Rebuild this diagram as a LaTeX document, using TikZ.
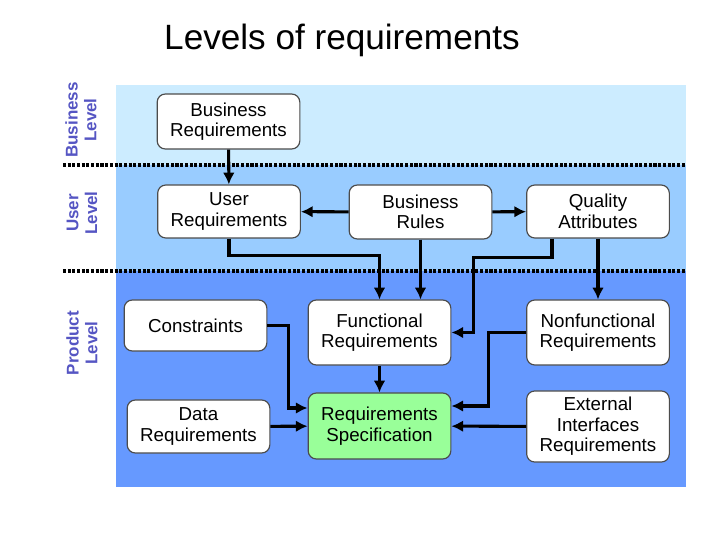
\documentclass[tikz,border=0pt]{standalone}
\usepackage{fontspec}
\setmainfont{Liberation Sans}
\usetikzlibrary{calc,arrows.meta}
\definecolor{bizband}{RGB}{204,236,255}
\definecolor{userband}{RGB}{153,204,255}
\definecolor{prodband}{RGB}{102,153,255}
\definecolor{levelcol}{RGB}{85,85,195}
\definecolor{specfill}{RGB}{153,255,153}
\begin{document}
\begin{tikzpicture}[x=0.03cm,y=-0.03cm]
  \tikzstyle{req} = [rectangle, rounded corners=7pt, draw=black!70, fill=white, line width=1pt, text width=3.9cm, inner sep=0.19cm, align=center, font=\fontsize{16}{17.5}\selectfont]
  \tikzstyle{level} = [rotate=90, align=center, text=levelcol, font=\fontsize{14.5}{16}\selectfont\bfseries]
  \tikzstyle{flow} = [line width=2.6pt,-{Latex[length=10pt,width=10pt]}]
  \tikzstyle{border} = [line width=3pt, dash pattern=on 2.6pt off 1.4pt]

  \useasboundingbox (0,0) rectangle (720,540);

  % Title
  \node (title) at (342,40) {\fontsize{30}{34}\selectfont Levels of requirements};

  % Level bands
  \fill [bizband] (116,85) rectangle (686,165);
  \fill [userband] (116,165) rectangle (686,271);
  \fill [prodband] (116,271) rectangle (686,487);
  \draw [border] (63,165) -- (686,165);
  \draw [border] (63,271) -- (686,271);

  \node [level] (lvlbiz) at (81,120) {Business\\Level};
  \node [level] (lvluser) at (82,213) {User\\Level};
  \node [level] (lvlprod) at (82,343) {Product\\Level};

  % Business level
  \node [req, minimum height=1.65cm] (busreq) at (228.5,121.5) {Business\\Requirements};

  % User level
  \node [req, minimum height=1.59cm] (userreq) at (229,211.5) {User\\Requirements};
  \node [req, minimum height=1.62cm] (busrules) at (420.5,212) {Business\\Rules};
  \node [req, minimum height=1.59cm] (quality) at (598,211.5) {Quality\\Attributes};

  % Product level
  \node [req, minimum height=1.53cm] (constr) at (195.5,325.5) {Constraints};
  \node [req, minimum height=1.95cm] (funcreq) at (379.5,332.5) {Functional\\Requirements};
  \node [req, minimum height=1.95cm] (nonfunc) at (598,332.5) {Nonfunctional\\Requirements};
  \node [req, minimum height=1.59cm] (datareq) at (198.5,426.5) {Data\\Requirements};
  \node [req, minimum height=1.98cm, fill=specfill] (reqspec) at (379.5,426) {Requirements\\Specification};
  \node [req, minimum height=1.89cm] (extif) at (598,426.5) {External\\Interfaces\\Requirements};

  % Connectors
  \draw [flow] (busreq) -- (userreq);
  \draw [flow] (busrules) -- (userreq);
  \draw [flow] (busrules) -- (quality);
  \draw [flow] (userreq.south) -- ++(0,17) -| (funcreq.north);
  \draw [flow] (busrules.south) -- (busrules.south |- funcreq.north);
  \draw [flow] ($(quality.south)+(-46,0)$) -- ++(0,19) -| ($(funcreq.east)+(22,0)$) -- (funcreq.east);
  \draw [flow] (quality) -- (nonfunc);
  \draw [flow] (nonfunc.west) -- ++(-38,0) |- ($(reqspec.east)+(0,-20)$);
  \draw [flow] (extif) -- (reqspec);
  \draw [flow] (constr.east) -- ++(21,0) |- ($(reqspec.west)+(0,-18)$);
  \draw [flow] (datareq) -- (reqspec);
  \draw [flow] (funcreq) -- (reqspec);
\end{tikzpicture}
\end{document}
